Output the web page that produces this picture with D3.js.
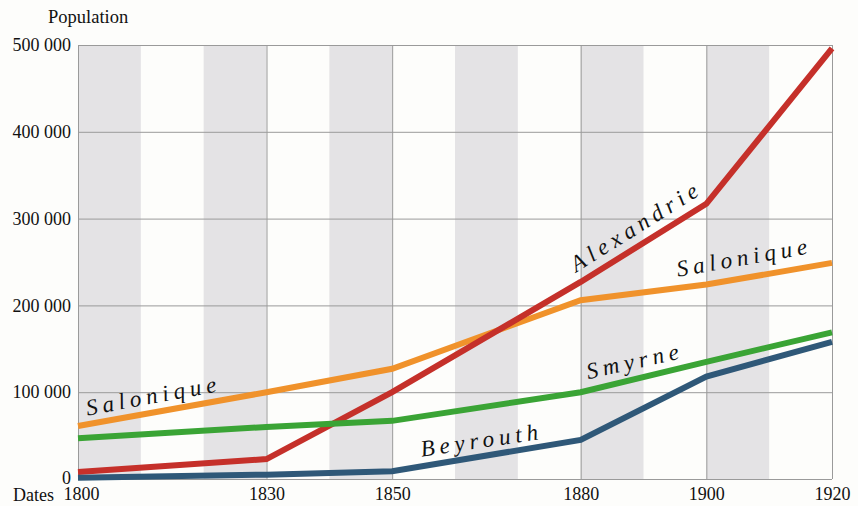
<!DOCTYPE html>
<html><head><meta charset="utf-8">
<script src="https://cdn.jsdelivr.net/npm/d3@7"></script>
</head>
<body style="margin:0;background:#fdfdfb">
<svg id="c" width="858" height="506" font-family="Liberation Serif, serif"></svg>
<script>
const years = [1800, 1830, 1850, 1880, 1900, 1920];
const salonique = [61000, 100000, 127000, 206000, 224000, 249000];
const alexandrie = [8000, 23000, 100000, 227000, 317000, 496000];
const smyrne = [47000, 60000, 67000, 100000, 135000, 169000];
const beyrouth = [1500, 5000, 9000, 45000, 118000, 158000];
const yTicks = [0, 100000, 200000, 300000, 400000, 500000];
const bandStarts = [1800, 1820, 1840, 1860, 1880, 1900];
const seriesNames = ["Salonique", "Alexandrie", "Smyrne", "Beyrouth"];
const seriesColors = ["#f0922b", "#c5302a", "#3aa435", "#2f5878"];
const seriesValues = [salonique, alexandrie, smyrne, beyrouth];
// labels: [text, year, value, angle]
const labels = [
  ["Salonique", 1801.5, 73000, -10.5],
  ["Salonique", 1895.5, 233000, -10],
  ["Alexandrie", 1879.3, 238000, -32],
  ["Smyrne", 1881.2, 115000, -12.5],
  ["Beyrouth", 1854.7, 25500, -8.5]
];
const FONT = "Liberation Serif, serif";

const svg = d3.select("#c");
const x = d3.scaleLinear().domain([1800, 1920]).range([78, 832]);
const y = d3.scaleLinear().domain([0, 500000]).range([479, 45]);

svg.append("g").selectAll("rect").data(bandStarts).join("rect")
  .attr("x", d => x(d)).attr("width", d => x(d + 10) - x(d))
  .attr("y", y(500000)).attr("height", y(0) - y(500000))
  .attr("fill", "#e4e3e5");

const grid = svg.append("g").attr("stroke", "#9a9a9a").attr("stroke-width", 1);
grid.selectAll(".h").data(yTicks).join("line")
  .attr("x1", x(1800)).attr("x2", x(1920))
  .attr("y1", d => y(d) + 0.5).attr("y2", d => y(d) + 0.5);
grid.selectAll(".v").data(years).join("line")
  .attr("x1", d => x(d) + 0.5).attr("x2", d => x(d) + 0.5)
  .attr("y1", y(500000)).attr("y2", y(0));

const yAxis = svg.append("g").attr("transform", `translate(${x(1800)},0)`)
  .call(d3.axisLeft(y).tickValues(yTicks).tickSize(0).tickPadding(7)
    .tickFormat(d => d === 0 ? "0" : d3.format(",")(d).replace(/,/g, " ")));
yAxis.attr("font-family", FONT).attr("font-size", 18);
yAxis.select(".domain").remove();
yAxis.selectAll("text").attr("fill", "#111")
  .attr("dy", d => d === 0 ? "0.25em" : "0.32em");

const xAxis = svg.append("g").attr("transform", `translate(0,${y(0)})`)
  .call(d3.axisBottom(x).tickValues(years).tickSize(0).tickPadding(8).tickFormat(d3.format("d")));
xAxis.attr("font-family", FONT).attr("font-size", 18);
xAxis.select(".domain").remove();
xAxis.selectAll("text").attr("fill", "#111")
  .attr("dx", d => d === 1800 ? 3 : 0);

svg.append("text").attr("x", 54).attr("y", y(0) + 22).attr("text-anchor", "end")
  .attr("font-size", 18).attr("font-family", FONT).attr("fill", "#111").text("Dates");
svg.append("text").attr("x", 48).attr("y", 23).attr("font-size", 18.5)
  .attr("font-family", FONT).attr("fill", "#111").text("Population");

const line = d3.line().x((d, i) => x(years[i])).y(d => y(d));
svg.append("g").selectAll("path").data(seriesValues).join("path")
  .attr("d", d => line(d)).attr("fill", "none")
  .attr("stroke", (d, i) => seriesColors[i]).attr("stroke-width", 6)
  .attr("stroke-linejoin", "miter");

svg.append("g").selectAll("text").data(labels).join("text")
  .attr("transform", d => `translate(${x(d[1])},${y(d[2])}) rotate(${d[3]})`)
  .attr("font-size", 23).attr("font-style", "italic").attr("letter-spacing", 5)
  .attr("font-family", FONT).attr("fill", "#111")
  .text(d => d[0]);
</script></body></html>
